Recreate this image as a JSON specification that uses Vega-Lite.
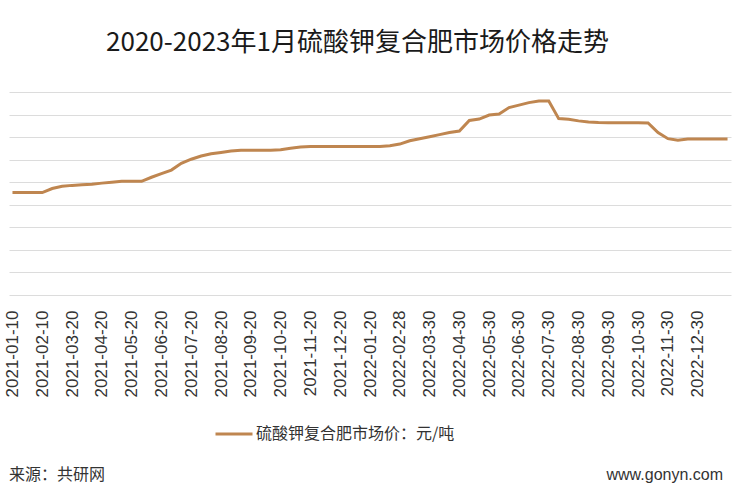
{
  "$schema": "https://vega.github.io/schema/vega-lite/v6.json",
  "background": "white",
  "padding": {"left": 3, "top": 30, "right": 12, "bottom": 0},
  "config": {"font": "Noto Sans CJK SC", "view": {"stroke": null}},
  "title": {"text": "2020-2023年1月硫酸钾复合肥市场价格走势", "fontSize": 26, "fontWeight": "normal", "color": "#1a1a1a", "anchor": "middle", "offset": 36, "dx": -11},
  "spacing": 25,
  "resolve": {"legend": {"color": "independent"}},
  "vconcat": [
    {
      "width": 722,
      "height": 203,
      "data": {"values": [
        {"date": "2021-01-10", "price": 2270},
        {"date": "2021-01-20", "price": 2270},
        {"date": "2021-01-30", "price": 2270},
        {"date": "2021-02-10", "price": 2270},
        {"date": "2021-02-28", "price": 2360},
        {"date": "2021-03-10", "price": 2410},
        {"date": "2021-03-20", "price": 2430},
        {"date": "2021-03-30", "price": 2445},
        {"date": "2021-04-10", "price": 2455},
        {"date": "2021-04-20", "price": 2480},
        {"date": "2021-04-30", "price": 2500},
        {"date": "2021-05-10", "price": 2520},
        {"date": "2021-05-20", "price": 2520},
        {"date": "2021-05-30", "price": 2520},
        {"date": "2021-06-10", "price": 2610},
        {"date": "2021-06-20", "price": 2690},
        {"date": "2021-06-30", "price": 2770},
        {"date": "2021-07-10", "price": 2920},
        {"date": "2021-07-20", "price": 3010},
        {"date": "2021-07-30", "price": 3080},
        {"date": "2021-08-10", "price": 3130},
        {"date": "2021-08-20", "price": 3160},
        {"date": "2021-08-30", "price": 3190},
        {"date": "2021-09-10", "price": 3210},
        {"date": "2021-09-20", "price": 3210},
        {"date": "2021-09-30", "price": 3210},
        {"date": "2021-10-10", "price": 3210},
        {"date": "2021-10-20", "price": 3220},
        {"date": "2021-10-30", "price": 3255},
        {"date": "2021-11-10", "price": 3280},
        {"date": "2021-11-20", "price": 3290},
        {"date": "2021-11-30", "price": 3290},
        {"date": "2021-12-10", "price": 3290},
        {"date": "2021-12-20", "price": 3290},
        {"date": "2021-12-30", "price": 3290},
        {"date": "2022-01-10", "price": 3290},
        {"date": "2022-01-20", "price": 3290},
        {"date": "2022-01-30", "price": 3290},
        {"date": "2022-02-20", "price": 3310},
        {"date": "2022-02-28", "price": 3345},
        {"date": "2022-03-10", "price": 3420},
        {"date": "2022-03-20", "price": 3465},
        {"date": "2022-03-30", "price": 3510},
        {"date": "2022-04-10", "price": 3555},
        {"date": "2022-04-20", "price": 3600},
        {"date": "2022-04-30", "price": 3635},
        {"date": "2022-05-10", "price": 3870},
        {"date": "2022-05-20", "price": 3900},
        {"date": "2022-05-30", "price": 3990},
        {"date": "2022-06-10", "price": 4010},
        {"date": "2022-06-20", "price": 4155},
        {"date": "2022-06-30", "price": 4210},
        {"date": "2022-07-10", "price": 4265},
        {"date": "2022-07-20", "price": 4300},
        {"date": "2022-07-30", "price": 4300},
        {"date": "2022-08-10", "price": 3910},
        {"date": "2022-08-20", "price": 3895},
        {"date": "2022-08-30", "price": 3860},
        {"date": "2022-09-10", "price": 3835},
        {"date": "2022-09-20", "price": 3825},
        {"date": "2022-09-30", "price": 3820},
        {"date": "2022-10-10", "price": 3820},
        {"date": "2022-10-20", "price": 3820},
        {"date": "2022-10-30", "price": 3820},
        {"date": "2022-11-10", "price": 3815},
        {"date": "2022-11-20", "price": 3600},
        {"date": "2022-11-30", "price": 3465},
        {"date": "2022-12-10", "price": 3430},
        {"date": "2022-12-20", "price": 3460},
        {"date": "2022-12-30", "price": 3460},
        {"date": "2023-01-10", "price": 3460},
        {"date": "2023-01-20", "price": 3460},
        {"date": "2023-01-30", "price": 3460}
      ]},
      "mark": {"type": "line", "strokeWidth": 3},
      "encoding": {
        "x": {
          "field": "date", "type": "ordinal", "sort": null,
          "scale": {"type": "point", "padding": 0.35},
          "axis": {
            "values": ["2021-01-10","2021-02-10","2021-03-20","2021-04-20","2021-05-20","2021-06-20","2021-07-20","2021-08-20","2021-09-20","2021-10-20","2021-11-20","2021-12-20","2022-01-20","2022-02-28","2022-03-30","2022-04-30","2022-05-30","2022-06-30","2022-07-30","2022-08-30","2022-09-30","2022-10-30","2022-11-30","2022-12-30"],
            "labelAngle": -90, "labelFontSize": 17, "labelFont": "Liberation Sans", "labelColor": "#333333",
            "labelPadding": 15, "ticks": false, "domain": false, "grid": false, "title": null
          }
        },
        "y": {
          "field": "price", "type": "quantitative",
          "scale": {"domain": [0, 4500]},
          "axis": {"values": [0,500,1000,1500,2000,2500,3000,3500,4000,4500], "labels": false, "ticks": false, "domain": false, "title": null, "grid": true, "gridColor": "#dcdcdc", "gridWidth": 1}
        },
        "color": {
          "datum": "硫酸钾复合肥市场价：元/吨", "type": "nominal",
          "scale": {"range": ["#BF8650"]},
          "legend": {"title": null, "orient": "none", "legendX": 205, "legendY": 322, "symbolType": "stroke", "symbolSize": 1369, "symbolStrokeWidth": 3, "labelFontSize": 16, "labelColor": "#333333", "labelLimit": 400, "labelOffset": 2}
        }
      }
    },
    {
      "spacing": 0,
      "hconcat": [
        {"width": 400, "height": 1, "data": {"values": []}, "mark": "text", "encoding": {},
         "title": {"text": "来源：共研网", "anchor": "start", "fontSize": 16, "fontWeight": "normal", "color": "#333333"}},
        {"width": 322, "height": 1, "data": {"values": []}, "mark": "text", "encoding": {},
         "title": {"text": "www.gonyn.com", "anchor": "end", "fontSize": 16, "font": "Liberation Sans", "fontWeight": "normal", "color": "#333333", "dx": -8}}
      ]
    }
  ]
}
